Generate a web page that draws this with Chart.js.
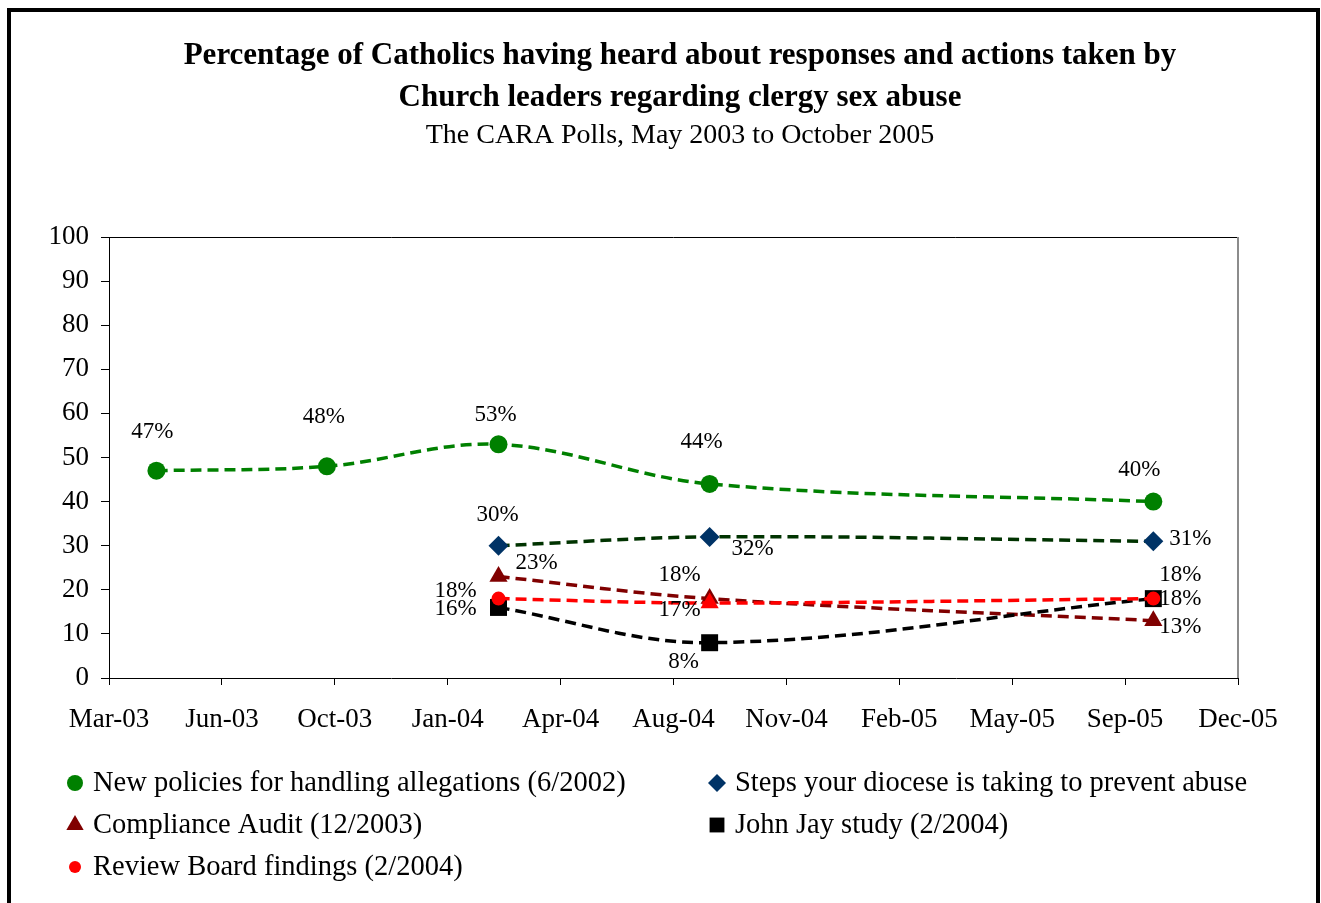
<!DOCTYPE html>
<html>
<head>
<meta charset="utf-8">
<title>CARA Polls</title>
<script src="https://cdn.jsdelivr.net/npm/chart.js@4.4.0/dist/chart.umd.min.js"></script>
<style>
  html, body { margin: 0; padding: 0; background: #fff; }
  #wrap { width: 1321px; height: 903px; }
</style>
</head>
<body>
<div id="wrap"><canvas id="myChart" width="1321" height="903"></canvas></div>
<script>
// poll dates and results (percent)
const pollDates = ["2003-05-02", "2003-09-30", "2004-02-29", "2004-09-03", "2005-10-01"];
const axisStart = "2003-03-21"; // x axis runs 1000 days from here, a tick every 100 days
const newPolicies = [47, 48, 53, 44, 40];
const stepsDiocese = [null, null, 30, 32, 31];
const complianceAudit = [null, null, 23, 18, 13];
const johnJay = [null, null, 16, 8, 18];
const reviewBoard = [null, null, 18, 17, 18];

const seriesNames = [
  "New policies for handling allegations (6/2002)",
  "Steps your diocese is taking to prevent abuse",
  "Compliance Audit (12/2003)",
  "John Jay study (2/2004)",
  "Review Board findings (2/2004)",
];

// where each value label sits relative to its point
const labelOffsets = [
  [[-4, -39], [-3, -49], [-3, -29], [-8, -42], [-14, -32]],
  [null, null, [-1, -31], [43, 12], [37, -2]],
  [null, null, [38, -14], [-30, -24], [27, 6]],
  [null, null, [-43, 2], [-26, 19], [27, -24]],
  [null, null, [-43, -8], [-30, 7], [27, 0]],
];

const serif = "'Liberation Serif', 'Times New Roman', serif";
const DAY = 86400000;
const months = ["Jan", "Feb", "Mar", "Apr", "May", "Jun", "Jul", "Aug", "Sep", "Oct", "Nov", "Dec"];

function dayOf(d) {
  return (Date.parse(d) - Date.parse(axisStart)) / DAY;
}

function toPoints(values) {
  var pts = [];
  for (var i = 0; i < values.length; i++) {
    if (values[i] != null) pts.push({ x: dayOf(pollDates[i]), y: values[i] });
  }
  return pts;
}

function labelFor(value) {
  let d = new Date(Date.parse(axisStart) + value * DAY);
  return months[d.getUTCMonth()] + "-" + String(d.getUTCFullYear()).slice(2);
}

function lineSet(label, values, line, fill, style, radius, order) {
  return {
    label: label,
    data: toPoints(values),
    borderColor: line,
    borderWidth: 3.5,
    borderDash: [11, 6],
    backgroundColor: fill,
    pointBackgroundColor: fill,
    pointBorderColor: fill,
    pointBorderWidth: 0,
    pointStyle: style,
    pointRadius: radius,
    pointHoverRadius: radius,
    tension: 0.35,
    order: order,
  };
}

// markers shown in the legend
const legendStyles = ["circle", "rectRot", "triangle", "rect", "circle"];
const legendSizes = [8, 9, 10, 10.5, 6];

const frame = {
  id: "frame",
  beforeDraw: (chart) => {
    const { ctx } = chart;
    ctx.save();
    ctx.fillStyle = "#fff";
    ctx.fillRect(0, 0, chart.width, chart.height);
    ctx.strokeStyle = "#000";
    ctx.lineWidth = 4;
    ctx.strokeRect(9, 10, 1309, 920);
    ctx.fillStyle = "#000";
    ctx.textAlign = "center";
    ctx.textBaseline = "middle";
    ctx.font = "bold 31px " + serif;
    ctx.fillText("Percentage of Catholics having heard about responses and actions taken by", 680, 56);
    ctx.fillText("Church leaders regarding clergy sex abuse", 680, 98);
    ctx.font = "28px " + serif;
    ctx.fillText("The CARA Polls, May 2003 to October 2005", 680, 136);
    ctx.restore();
  },
  beforeDatasetsDraw: (chart) => {
    const { ctx, chartArea } = chart;
    ctx.save();
    ctx.strokeStyle = "#000";
    ctx.lineWidth = 1;
    ctx.beginPath();
    ctx.moveTo(chartArea.left, chartArea.top + 0.5);
    ctx.lineTo(chartArea.right, chartArea.top + 0.5);
    ctx.stroke();
    ctx.strokeStyle = "#8c8c8c";
    ctx.lineWidth = 2;
    ctx.beginPath();
    ctx.moveTo(chartArea.right, chartArea.top);
    ctx.lineTo(chartArea.right, chartArea.bottom);
    ctx.stroke();
    ctx.restore();
  },
};

const valueLabels = {
  id: "valueLabels",
  afterDatasetsDraw: (chart) => {
    const { ctx } = chart;
    ctx.save();
    ctx.font = "23px " + serif;
    ctx.fillStyle = "#000";
    ctx.textAlign = "center";
    ctx.textBaseline = "middle";
    chart.data.datasets.forEach((ds, i) => {
      const meta = chart.getDatasetMeta(i);
      const offs = labelOffsets[i].filter((o) => o != null);
      meta.data.forEach((pt, j) => {
        const o = offs[j];
        ctx.fillText(ds.data[j].y + "%", pt.x + o[0], pt.y + o[1]);
      });
    });
    ctx.restore();
  },
};

// two column legend under the plot
const legendBox = {
  id: "legendBox",
  afterDraw: (chart) => {
    const { ctx } = chart;
    const slots = [[75, 783], [717, 783], [75, 825], [717, 825], [75, 867]];
    ctx.save();
    ctx.font = "28.5px " + serif;
    ctx.textAlign = "left";
    ctx.textBaseline = "middle";
    chart.data.datasets.forEach((ds, i) => {
      const [x, y] = slots[i];
      ctx.fillStyle = ds.pointBackgroundColor;
      ctx.strokeStyle = ds.pointBackgroundColor;
      Chart.helpers.drawPoint(ctx, { pointStyle: legendStyles[i], radius: legendSizes[i], rotation: 0, borderWidth: 0 }, x, y);
      ctx.fillStyle = "#000";
      ctx.fillText(seriesNames[i], x + 18, y + 1);
    });
    ctx.restore();
  },
};

const ctx = document.getElementById("myChart");

var chart = new Chart(ctx, {
  type: "line",
  data: {
    datasets: [
      lineSet(seriesNames[0], newPolicies, "#008000", "#008000", "circle", 9, 5),
      lineSet(seriesNames[1], stepsDiocese, "#003300", "#003366", "rectRot", 10, 4),
      lineSet(seriesNames[2], complianceAudit, "#800000", "#800000", "triangle", 10.5, 3),
      lineSet(seriesNames[3], johnJay, "#000000", "#000000", "rect", 12, 2),
      lineSet(seriesNames[4], reviewBoard, "#ff0000", "#ff0000", ["circle", "triangle", "circle"], [7, 10.5, 7], 1),
    ],
  },
  options: {
    responsive: false,
    animation: false,
    events: [],
    layout: { padding: { left: 0, right: 83, top: 237, bottom: 0 } },
    plugins: {
      legend: { display: false },
      tooltip: { enabled: false },
    },
    scales: {
      x: {
        type: "linear",
        min: 0,
        max: 1000,
        afterFit: (scale) => { scale.height = 225; },
        ticks: {
          stepSize: 100,
          autoSkip: false,
          maxRotation: 0,
          padding: 19,
          color: "#000",
          font: { family: serif, size: 27 },
          callback: (value) => labelFor(value),
        },
        grid: { drawOnChartArea: false, drawTicks: true, tickLength: 7, color: "#000" },
        border: { color: "#000", width: 1 },
      },
      y: {
        min: 0,
        max: 100,
        afterFit: (scale) => { scale.width = 109; },
        ticks: {
          stepSize: 10,
          padding: 12,
          color: "#000",
          font: { family: serif, size: 27 },
        },
        grid: { drawOnChartArea: false, drawTicks: true, tickLength: 8, color: "#000" },
        border: { color: "#000", width: 1 },
      },
    },
  },
  plugins: [frame, valueLabels, legendBox],
});
</script>
</body>
</html>
